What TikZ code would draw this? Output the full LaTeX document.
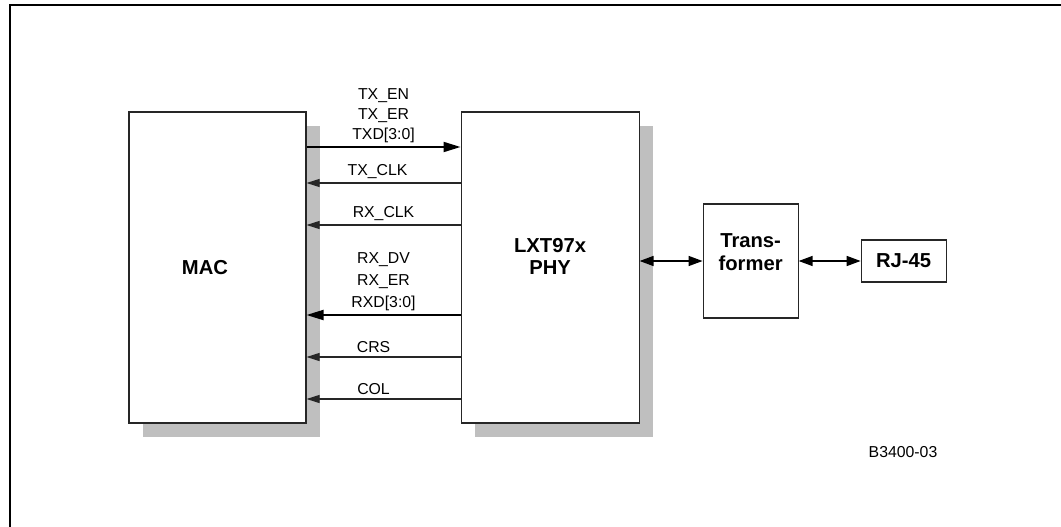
\documentclass[tikz,border=0pt]{standalone}
\usepackage{fontspec}
\setmainfont{Liberation Sans}
\usetikzlibrary{positioning,shadows,arrows.meta}
\tikzstyle{block} = [rectangle,
                    draw=black!85,
                    line width=0.6pt,
                    fill=white]
\tikzstyle{unit} = [block,
                    minimum height=6.22cm,
                    drop shadow={shadow xshift=0.28cm, shadow yshift=-0.28cm, fill=black!25, opacity=1}]
\tikzstyle{title} = [font=\bfseries\fontsize{11.5}{12.8}\selectfont, align=center]
\tikzstyle{lbl} = [font=\fontsize{9}{11.4}\selectfont, align=center, inner sep=2pt]
\tikzstyle{sig} = [draw=black!85, line width=0.6pt, -{Triangle[length=0.26cm,width=0.16cm]}]
\tikzstyle{bus} = [draw=black, line width=1.1pt, -{Triangle[length=0.34cm,width=0.2cm]}]
\tikzstyle{link} = [draw=black, line width=0.8pt, {Triangle[length=0.28cm,width=0.2cm]}-{Triangle[length=0.28cm,width=0.2cm]}]

\begin{document}
\begin{tikzpicture}[node distance=3.08cm]
\useasboundingbox (0,0) rectangle (21.22,-10.54);
% frame
\draw[line width=1.1pt] (0.2,-10.54) -- (0.2,-0.1) -- (21.22,-0.1);

% blocks
\node (mac) [unit, minimum width=3.54cm] at (4.35,-5.35) {};
\node (phy) [unit, minimum width=3.56cm, right= of mac] {};
\node (trans) [block, minimum width=1.9cm, minimum height=2.28cm, right=1.26cm of phy, yshift=0.13cm] {};
\node (rj) [block, title, minimum width=1.7cm, minimum height=0.84cm, right=1.24cm of trans] {RJ-45};

\node (mactxt) [title] at ([xshift=-0.25cm]mac.center) {MAC};
\node (phytxt) [title] at ([yshift=0.22cm]phy.center) {LXT97x\\PHY};
\node (transtxt) [title] at ([yshift=0.18cm]trans.center) {Trans-\\former};

% MII signals
\draw[bus] ([yshift=2.41cm]mac.east) -- node[lbl, above] {TX\_EN\\TX\_ER\\TXD[3:0]} ([yshift=2.41cm]phy.west);
\draw[sig] ([yshift=1.69cm]phy.west) -- node[lbl, above, xshift=-0.12cm] {TX\_CLK} ([yshift=1.69cm]mac.east);
\draw[sig] ([yshift=0.85cm]phy.west) -- node[lbl, above] {RX\_CLK} ([yshift=0.85cm]mac.east);
\draw[bus] ([yshift=-0.95cm]phy.west) -- node[lbl, above, font=\fontsize{9}{12.4}\selectfont] {RX\_DV\\RX\_ER\\RXD[3:0]} ([yshift=-0.95cm]mac.east);
\draw[sig] ([yshift=-1.79cm]phy.west) -- node[lbl, above, xshift=-0.2cm] {CRS} ([yshift=-1.79cm]mac.east);
\draw[sig] ([yshift=-2.63cm]phy.west) -- node[lbl, above, xshift=-0.2cm] {COL} ([yshift=-2.63cm]mac.east);

% line side
\draw[link] (phy.east |- trans.west) -- (trans.west);
\draw[link] (trans.east |- rj.west) -- (rj.west);

\node (fig) [lbl] at (18.06,-9.04) {B3400-03};
\end{tikzpicture}
\end{document}
